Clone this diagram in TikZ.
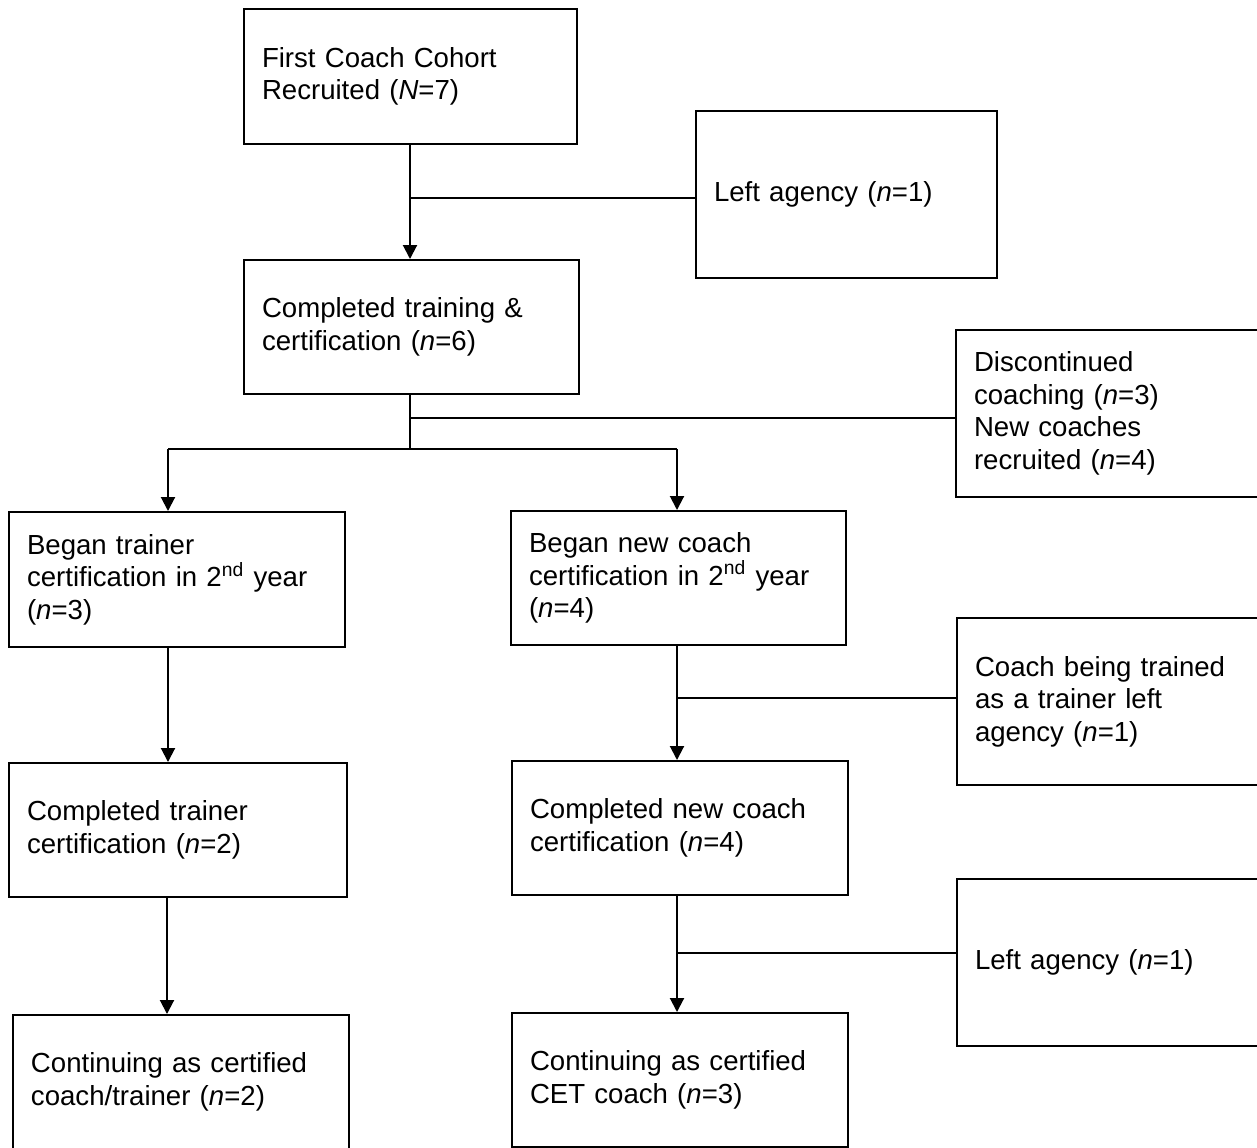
\documentclass[tikz,border=0pt]{standalone}
\usepackage{fontspec}
\setmainfont{Liberation Sans}
\usetikzlibrary{arrows.meta,calc}
\begin{document}
\begin{tikzpicture}[x=0.5pt,y=-0.5pt,
  box/.style={draw, line width=1pt, rectangle, inner xsep=9pt, inner ysep=0pt,
    align=left, font=\fontsize{13.8pt}{16.25pt}\selectfont, minimum height=67pt},
  tall/.style={minimum height=83.5pt},
  conn/.style={line width=1pt},
  arr/.style={line width=1pt, -{Triangle[width=7pt,length=7pt]}}]
\useasboundingbox (0,0) rectangle (1257,1147);
\clip (0,0) rectangle (1257,1147);
\fill[white] (0,0) rectangle (1257,1147);
% boxes
\node[box, text width=148.5pt, minimum height=67.5pt] (b1) at (410.5,76.5) {First Coach Cohort\\Recruited (\textit{N}=7)};
\node[box, tall, text width=132.5pt] (b2) at (846.5,194) {Left agency (\textit{n}=1)};
\node[box, text width=149.5pt] (b3) at (411.5,327) {Completed training \&\\certification (\textit{n}=6)};
\node[box, tall, text width=152pt] (b4) at (1126,413.5) {Discontinued\\coaching (\textit{n}=3)\\New coaches\\recruited (\textit{n}=4)};
\node[box, text width=150pt, minimum height=67.5pt] (b5) at (177,579.5) {Began trainer\\certification in 2\textsuperscript{nd} year\\(\textit{n}=3)};
\node[box, text width=149.5pt] (b6) at (678.5,578) {Began new coach\\certification in 2\textsuperscript{nd} year\\(\textit{n}=4)};
\node[box, tall, text width=153.5pt] (b7) at (1128.5,701.5) {Coach being trained\\as a trainer left\\agency (\textit{n}=1)};
\node[box, text width=151pt] (b8) at (178,830) {Completed trainer\\certification (\textit{n}=2)};
\node[box, text width=150pt] (b9) at (680,828) {Completed new coach\\certification (\textit{n}=4)};
\node[box, tall, text width=153.5pt] (b10) at (1128.5,962.5) {Left agency (\textit{n}=1)};
\node[box, text width=150pt] (b11) at (181,1082) {Continuing as certified\\coach/trainer (\textit{n}=2)};
\node[box, text width=150pt] (b12) at (680,1080) {Continuing as certified\\CET coach (\textit{n}=3)};
% connectors
\coordinate (t) at (410,144);
\coordinate (j1) at (410,198);
\draw[arr] (t) -- (t |- b3.north);
\draw[conn] (j1) -- (j1 -| b2.west);
\coordinate (j2) at (410,418);
\coordinate (l) at (168,449);
\coordinate (r) at (677,449);
\coordinate (m) at (410,449);
\draw[conn] (m |- b3.south) -- (m);
\draw[conn] (j2) -- (j2 -| b4.west);
\draw[conn] (l) -- (r);
\draw[arr] (l) -- (l |- b5.north);
\draw[arr] (r) -- (r |- b6.north);
\draw[arr] (l |- b5.south) -- (l |- b8.north);
\draw[arr] (r |- b6.south) -- (r |- b9.north);
\coordinate (j3) at (677,698);
\draw[conn] (j3) -- (j3 -| b7.west);
\coordinate (bl) at (167,897);
\draw[arr] (bl |- b8.south) -- (bl |- b11.north);
\draw[arr] (r |- b9.south) -- (r |- b12.north);
\coordinate (j4) at (677,953);
\draw[conn] (j4) -- (j4 -| b10.west);
\end{tikzpicture}
\end{document}
